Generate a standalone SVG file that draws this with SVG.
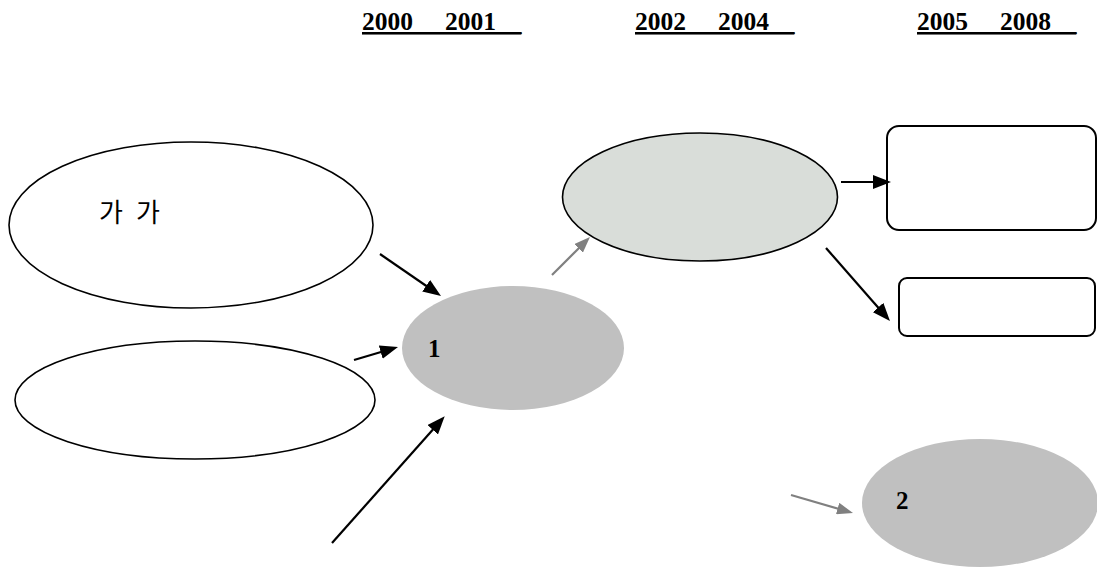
<svg xmlns="http://www.w3.org/2000/svg" width="1097" height="567" viewBox="0 0 1097 567">
<style>
.hdr{font-family:"Liberation Serif","Times New Roman",serif;font-weight:bold;font-size:25.5px;fill:#000;text-decoration:underline;white-space:pre}
.num{font-family:"Liberation Serif","Times New Roman",serif;font-weight:bold;font-size:25px;fill:#000}
.kr{font-family:"Noto Sans CJK KR","Noto Sans",sans-serif;font-size:26px;fill:#000}
.open{fill:#fff;stroke:#000;stroke-width:1.6}
.stage{fill:#c0c0c0;stroke:none}
.mid{fill:#d9ddd9;stroke:#000;stroke-width:1.6}
.box{fill:#fff;stroke:#000;stroke-width:2}
.blk{stroke:#000;stroke-width:2.2;fill:none;marker-end:url(#ah)}
.gry{stroke:#808080;stroke-width:2.2;fill:none;marker-end:url(#ahg)}
</style>
<defs>
<marker id="ah" markerUnits="userSpaceOnUse" markerWidth="18" markerHeight="14" refX="10" refY="7" orient="auto">
<path d="M0,0 L18,7 L0,14 z" fill="#000"/>
</marker>
<marker id="ahg" markerUnits="userSpaceOnUse" markerWidth="16" markerHeight="12" refX="8" refY="6" orient="auto">
<path d="M0,0 L16,6 L0,12 z" fill="#808080"/>
</marker>
</defs>
<rect width="1097" height="567" fill="#fff"/>
<g id="headers">
<text class="hdr" x="362" y="30" xml:space="preserve">2000__ 2001__</text>
<text class="hdr" x="635" y="30" xml:space="preserve">2002__ 2004__</text>
<text class="hdr" x="917" y="30" xml:space="preserve">2005__ 2008__</text>
</g>
<g id="nodeA">
<ellipse class="open" cx="191" cy="225" rx="182" ry="83"/>
<text class="kr" x="99" y="222">가</text>
<text class="kr" x="136" y="222">가</text>
</g>
<g id="nodeB">
<ellipse class="open" cx="195" cy="400" rx="180" ry="59"/>
</g>
<g id="stage1">
<ellipse class="stage" cx="513" cy="348" rx="111" ry="62"/>
<text class="num" x="428" y="357">1</text>
</g>
<g id="nodeMid">
<ellipse class="mid" cx="700" cy="197" rx="137.5" ry="64"/>
</g>
<g id="box1">
<rect class="box" x="887" y="126" width="209" height="104" rx="12"/>
</g>
<g id="box2">
<rect class="box" x="899" y="278" width="196" height="58" rx="8"/>
</g>
<g id="stage2">
<ellipse class="stage" cx="980" cy="503" rx="118" ry="64"/>
<text class="num" x="896" y="509">2</text>
</g>
<g id="connectors">
<line class="blk" x1="380" y1="254" x2="434.4" y2="291.5"/>
<line class="blk" x1="354" y1="360" x2="390.3" y2="349.3"/>
<line class="blk" x1="332" y1="543" x2="439.4" y2="422.3"/>
<line class="gry" x1="552" y1="275" x2="584.3" y2="242.7"/>
<line class="blk" x1="841" y1="182" x2="883" y2="182"/>
<line class="blk" x1="826" y1="248" x2="884.7" y2="315"/>
<line class="gry" x1="791" y1="495" x2="845.3" y2="510.8"/>
</g>
</svg>
